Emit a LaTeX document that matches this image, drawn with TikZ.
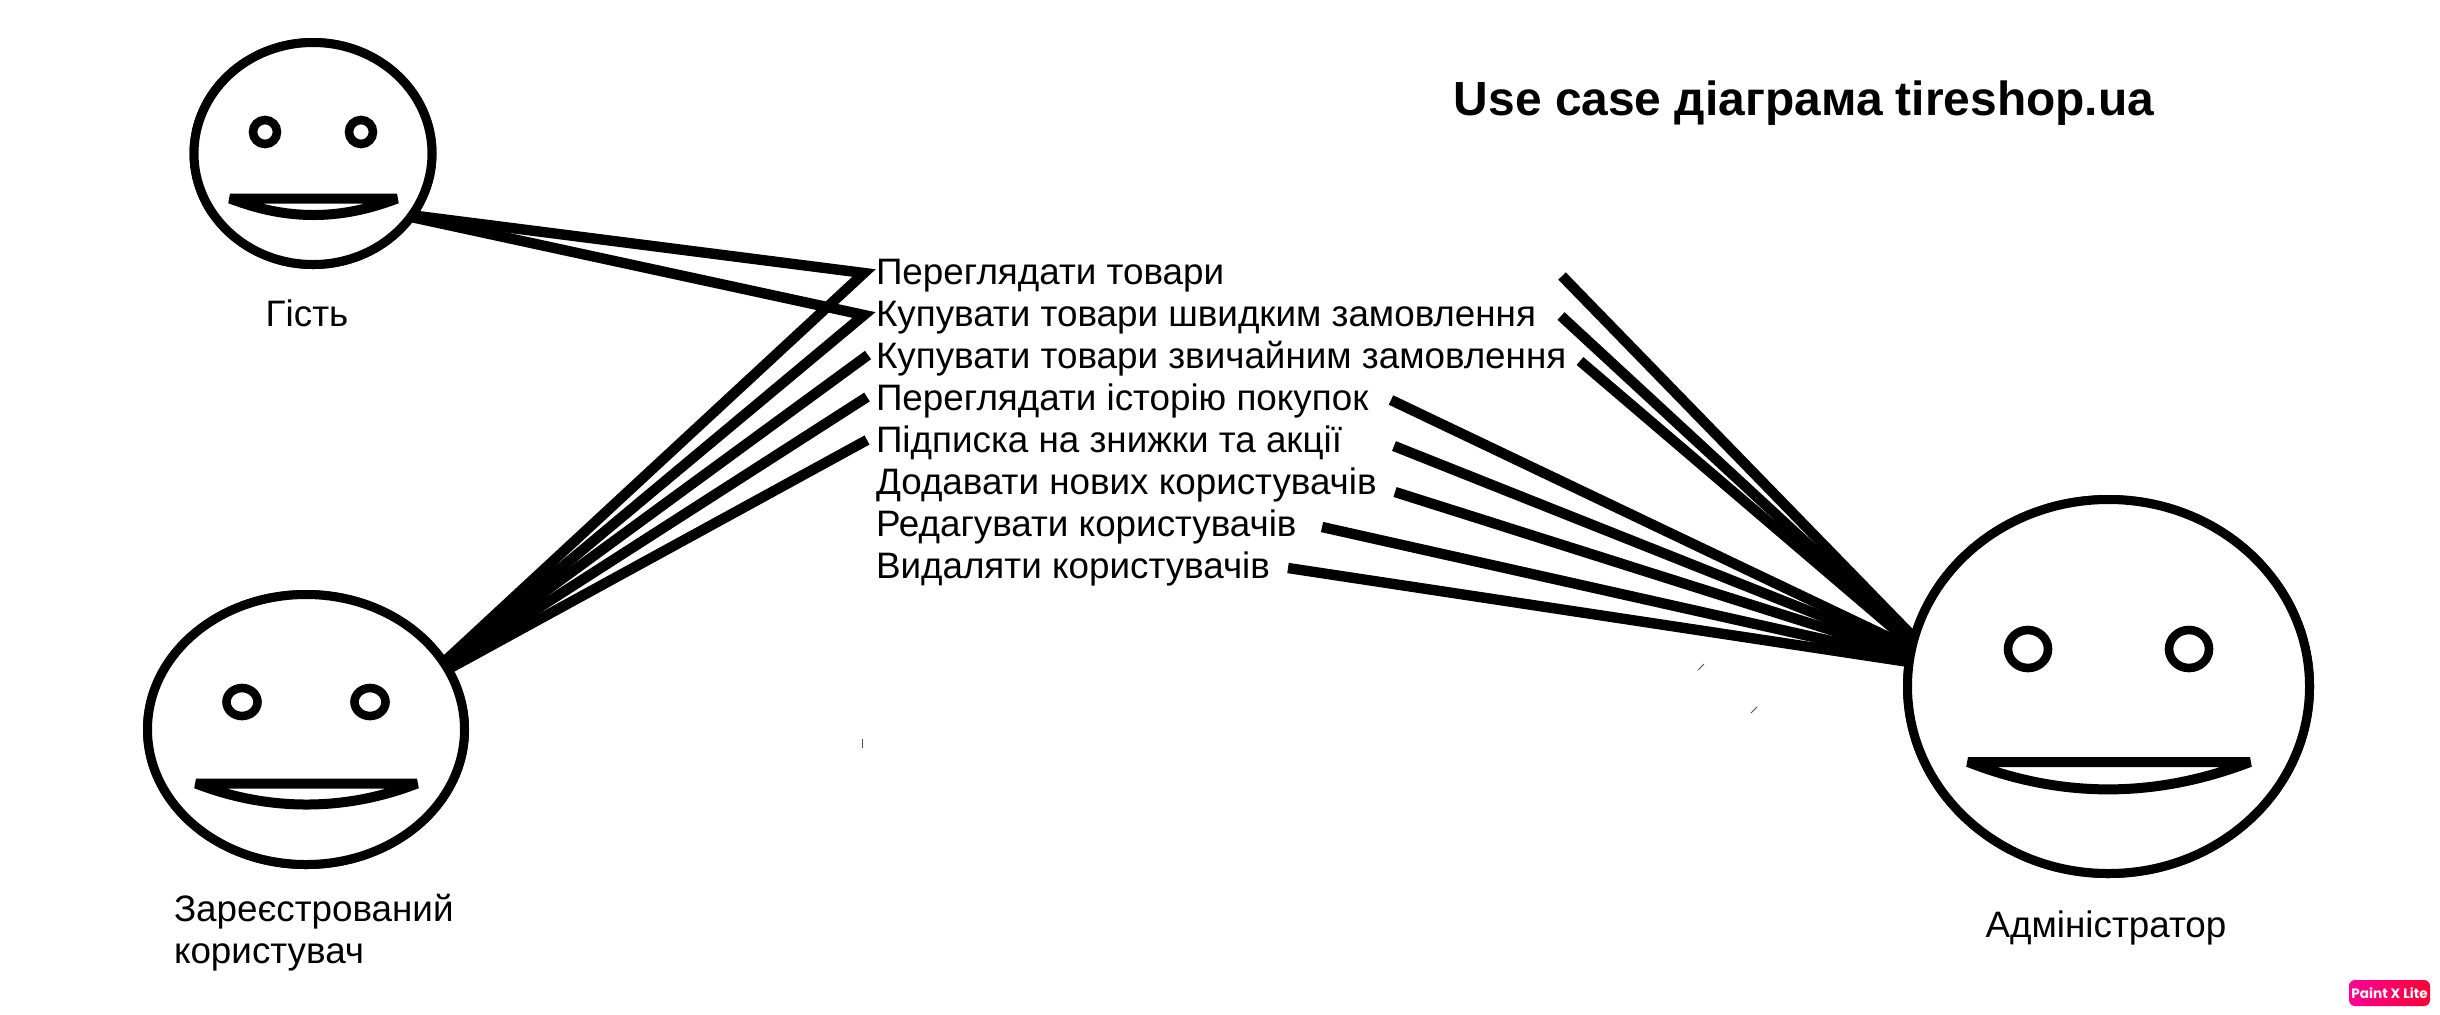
\documentclass[tikz,border=0pt]{standalone}
\usepackage{fontspec}
\setmainfont{Liberation Sans}
\newfontfamily\badgefont{Poppins}
\usetikzlibrary{shapes.geometric}
\definecolor{badgeL}{RGB}{255,0,150}
\definecolor{badgeR}{RGB}{255,0,50}
\tikzset{
  x=.5pt,y=-.5pt,
  face/.style={draw=black,fill=white,ellipse,inner sep=0pt,outer sep=0pt,line width=4.5pt},
  eye/.style={draw=black,fill=white,ellipse,inner sep=0pt,outer sep=0pt,line width=4.3pt},
  mouth/.style={draw=black,fill=white,line width=5pt,line join=bevel},
  conn/.style={draw=black,line width=5.2pt,line join=miter,miter limit=10},
  uc/.style={anchor=west,inner sep=0pt,outer sep=0pt,font=\fontsize{18.4pt}{21pt}\selectfont,text height=.72em,text depth=0pt},
  actor/.style={inner sep=0pt,outer sep=0pt,font=\fontsize{18.4pt}{21pt}\selectfont},
  speck/.style={draw=black!70,line width=.4pt},
}
\begin{document}
\begin{tikzpicture}
\useasboundingbox (0,0) rectangle (2440,1014);
% use-case texts
\node[uc] (t1) at (876,277) {Переглядати товари};
\node[uc] (t2) at (876,319) {Купувати товари швидким замовлення};
\node[uc] (t3) at (876,361) {Купувати товари звичайним замовлення};
\node[uc] (t4) at (876,403) {Переглядати історію покупок};
\node[uc] (t5) at (876,445) {Підписка на знижки та акції};
\node[uc] (t6) at (876,487) {Додавати нових користувачів};
\node[uc] (t7) at (876,529) {Редагувати користувачів};
\node[uc] (t8) at (876,571) {Видаляти користувачів};
% faces (nodes first, so that connectors can refer to them)
\node[face,minimum width=238pt/2,minimum height=222pt/2] (guest) at (313,153.5) {};
\node[face,minimum width=317pt/2,minimum height=270pt/2] (reg) at (306,729.5) {};
\node[face,minimum width=402pt/2,minimum height=374pt/2] (admin) at (2108.5,686.5) {};
% free ends of connectors
\coordinate (p1) at (864,273);
\coordinate (p2) at (864,315);
\coordinate (p3) at (868,355);
\coordinate (p4) at (867,397);
\coordinate (p5) at (867,440);
\coordinate (a1) at (1562,276);
\coordinate (a2) at (1561,316);
\coordinate (a3) at (1580,361);
\coordinate (a4) at (1391,400);
\coordinate (a5) at (1394,446);
\coordinate (a6) at (1395,492);
\coordinate (a7) at (1322,527);
\coordinate (a8) at (1288,568);
% connectors
\draw[conn] (guest.-32) -- (p1) -- (reg.26);
\draw[conn] (guest.-33) -- (p2) -- (reg.25.5);
\draw[conn] (p3) -- (reg.25);
\draw[conn] (p4) -- (reg.24);
\draw[conn] (p5) -- (reg.23.5);
\draw[conn] (a1) -- (admin.166);
\draw[conn] (a2) -- (admin.167);
\draw[conn] (a3) -- (admin.168);
\draw[conn] (a4) -- (admin.169);
\draw[conn] (a5) -- (admin.170);
\draw[conn] (a6) -- (admin.171);
\draw[conn] (a7) -- (admin.172);
\draw[conn] (a8) -- (admin.173);
% faces on top of connector ends
\node[face,minimum width=238pt/2,minimum height=222pt/2] at (313,153.5) {};
\node[face,minimum width=317pt/2,minimum height=270pt/2] at (306,729.5) {};
\node[face,minimum width=402pt/2,minimum height=374pt/2] at (2108.5,686.5) {};
% eyes
\node[eye,minimum width=12pt,minimum height=12pt] (g1) at (265,132) {};
\node[eye,minimum width=12pt,minimum height=12pt] (g2) at (361,132) {};
\node[eye,minimum width=15.5pt,minimum height=14pt] (r1) at (242,702) {};
\node[eye,minimum width=15.5pt,minimum height=14pt] (r2) at (370,702) {};
\node[eye,minimum width=20pt,minimum height=19pt] (d1) at (2028,649) {};
\node[eye,minimum width=20pt,minimum height=19pt] (d2) at (2189,649) {};
% mouths
\draw[mouth] (230,198.5) -- (397,198.5) .. controls (340,220.5) and (287,220.5) .. cycle;
\draw[mouth] (196,783.5) -- (417,783.5) .. controls (345,811.5) and (268,811.5) .. cycle;
\draw[mouth] (1968,762) -- (2250,762) .. controls (2155,798.5) and (2061,798.5) .. cycle;
% labels
\node[actor] (lg) at (307,313) {Гість};
\node[actor,anchor=west,align=left] (lr) at (174,933) {Зареєстрований\\користувач};
\node[actor] (la) at (2106,928) {Адміністратор};
\node[inner sep=0pt,font=\fontsize{23.95pt}{27pt}\selectfont\bfseries] (title) at (1804,103) {Use case діаграма tireshop.ua};
% stray marks
\draw[speck] (862,739) -- (862,748);
\draw[speck] (1698,670) -- (1704,664);
\draw[speck] (1751,713) -- (1757,707);
% watermark
\node[rounded corners=3pt,left color=badgeL,right color=badgeR,minimum width=40.5pt,minimum height=13pt,inner sep=0pt,text=white,font=\badgefont\fontsize{6.8pt}{7pt}\selectfont\bfseries] (badge) at (2389.5,993) {Paint X Lite};
\end{tikzpicture}
\end{document}
